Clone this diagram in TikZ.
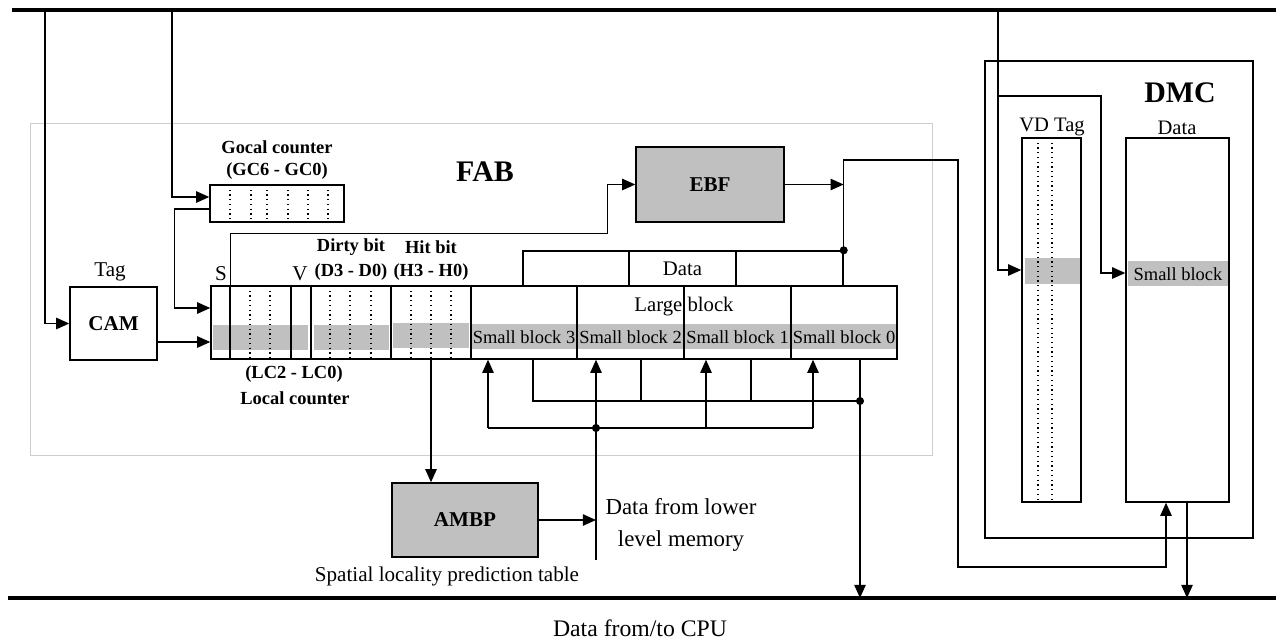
\documentclass[tikz,border=0pt]{standalone}
\usepackage{fontspec}
\setmainfont{Liberation Serif}
\usepackage{tikz}
\usetikzlibrary{calc, positioning, arrows.meta, fit}
\definecolor{cellgray}{RGB}{192, 192, 192}
\definecolor{framegray}{RGB}{205, 205, 205}

\begin{document}
\begin{tikzpicture}[x=0.02cm, y=-0.02cm, line width=0.8pt,
    >={Triangle[length=7.5pt, width=6.5pt]},
    fld/.style={draw, inner sep=0pt},
    gbox/.style={draw, fill=cellgray, inner sep=0pt},
    bigb/.style={font=\fontsize{12}{14}\selectfont\bfseries},
    hd/.style={font=\fontsize{10.5}{12}\selectfont\bfseries},
    txt/.style={font=\fontsize{12}{14}\selectfont},
    sbtxt/.style={font=\fontsize{10.5}{12}\selectfont, inner sep=0pt},
    dots/.style={dotted, line width=0.7pt}]
  \useasboundingbox (0,0) rectangle (1280,640);

  % Buses to and from the CPU
  \coordinate (topL) at (12,10);
  \coordinate (topR) at (1276,10);
  \coordinate (botL) at (8,598);
  \coordinate (botR) at (1276,598);
  \draw[line width=2.2pt] (topL) -- (topR);
  \draw[line width=2.2pt] (botL) -- (botR);
  \node[font=\fontsize{13.5}{15}\selectfont] (cpu) at (640,628) {Data from/to CPU};

  % FAB and DMC frames
  \node[fit={(30,123) (932,455)}, inner sep=0pt, draw=framegray, line width=0.5pt] (fabbox) {};
  \node[font=\fontsize{17}{19}\selectfont\bfseries] (fab) at (485,172) {FAB};
  \node[fit={(985,61) (1253,538)}, inner sep=0pt, draw, line width=0.7pt] (dmcbox) {};
  \node[font=\fontsize{17}{19}\selectfont\bfseries] (dmc) at (1180,93) {DMC};

  % Gray strips behind the selected row
  \fill[cellgray] (213,325) rectangle (308,350);
  \fill[cellgray] (314,325) rectangle (389,350);
  \fill[cellgray] (393,323) rectangle (469,348);
  \fill[cellgray] (471,324) rectangle (897,349);
  \fill[cellgray] (1025,258) rectangle (1080,284);
  \fill[cellgray] (1128,261) rectangle (1228,286);

  % FAB row fields
  \foreach \n/\l/\r in {s/211/230, lc/230/291, v/291/311, dty/311/391, hit/391/471,
                        sbc/471/577, sbb/577/684, sba/684/791, sbz/791/897}
    \node[fld, fit={(\l,286) (\r,359)}] (\n) {};
  \foreach \x in {250,270,330,350,371,411,431,451}
    \draw[dots] (\x,286) -- (\x,359);
  \foreach \n/\k in {sbc/3, sbb/2, sba/1, sbz/0}
    \node[sbtxt] at ([yshift=-0.29cm]\n.center) {Small block \k};
  \node[font=\fontsize{11.8}{13}\selectfont] (large) at (684,307) {Large block};

  % Data cells above the row
  \foreach \n/\l/\r in {dha/523/629, dhb/629/736, dhc/736/843}
    \node[fld, fit={(\l,251) (\r,286)}] (\n) {};
  \node[font=\fontsize{11.8}{13}\selectfont] at (dhb.center) {Data};

  % Field labels
  \node[txt] (slbl) at (221,274) {S};
  \node[txt] (vlbl) at (300,274) {V};
  \node[hd] (dlbl) at (351,272) {(D3 - D0)};
  \node[hd] (hlbl) at (431,272) {(H3 - H0)};
  \node[hd] at (351,247) {Dirty bit};
  \node[hd] at (431,247) {Hit bit};
  \node[hd] (lclbl) at (294,374) {(LC2 - LC0)};
  \node[hd] at (295,398) {Local counter};

  % Gocal counter
  \node[fld, fit={(210,185) (344,222)}] (gc) {};
  \foreach \x in {230,251,267,288,308,328}
    \draw[dots] (\x,185) -- (\x,222);
  \node[hd] at (277,147) {Gocal counter};
  \node[hd] at (277,171) {(GC6 - GC0)};

  % CAM, EBF and AMBP
  \node[fld, fit={(70,287) (157,360)}] (cam) {};
  \node[bigb] at (cam.center) {CAM};
  \node[txt] at (110,272) {Tag};
  \node[gbox, fit={(636,147) (784,222)}] (ebf) {};
  \node[bigb] at (ebf.center) {EBF};
  \node[gbox, fit={(392,483) (538,557)}] (ambp) {};
  \node[bigb] at (ambp.center) {AMBP};
  \node[txt] at (447,576) {Spatial locality prediction table};
  \node[font=\fontsize{13}{18}\selectfont, align=center] (lower) at (681,525) {Data from lower\\level memory};

  % DMC tag and data arrays
  \node[fld, fit={(1022,138) (1081,502)}] (vdt) {};
  \foreach \x in {1038,1052}
    \draw[dots] (\x,138) -- (\x,502);
  \node[font=\fontsize{11.7}{13}\selectfont] at (1052,127) {VD Tag};
  \node[fld, fit={(1126,138) (1229,502)}] (dmd) {};
  \node[sbtxt] at (1178,274) {Small block};
  \node[font=\fontsize{11.7}{13}\selectfont] at (1177,128) {Data};

  % Connectors on the left
  \coordinate (tapA) at (45,10);
  \coordinate (tapB) at (172,10);
  \draw[->] (tapA) |- (cam.west);
  \draw[->] (cam.east |- 0,342) -- (s.west |- 0,342);
  \draw[->] (tapB) |- (gc.west |- 0,197);
  \draw[->] (gc.west |- 0,209) -- ++(-35,0) |- (s.west |- 0,308);
  \draw[->] (s.north east) -- ++(0,-52) -| ([xshift=-0.56cm]ebf.west) -- (ebf.west);
  \draw[->] (ebf.east) -- (ebf.east -| dhc.east);

  % EBF output down to the DMC data array
  \coordinate (rA) at (958,160);
  \coordinate (rB) at (958,567);
  \coordinate (rC) at (1166,567);
  \draw[->] (dhc.south east) |- (rA) -- (rB) -- (rC) -- (rC |- dmd.south);
  \fill (dhc.north east) circle (2.3pt);

  % Row to CPU bus
  \coordinate (jB) at (860,401);
  \draw[->] (sbz.south -| jB) -- (jB) -- (jB |- botL);
  \draw (jB) -- (533,401) -- (sbc.south -| 533,0);
  \foreach \x in {641,751}
    \draw (\x,401) -- (sbb.south -| \x,0);
  \fill (jB) circle (2.3pt);

  % Lower level memory into the small blocks
  \coordinate (jA) at (596,428);
  \draw (488,428) -- (813,428);
  \foreach \x in {488,596,706,813}
    \draw[->] (\x,428) -- (sbc.south -| \x,0);
  \draw (jA) -- (596,560);
  \fill (jA) circle (2.3pt);

  % AMBP
  \draw[->] (hit.south) -- (hit.south |- ambp.north);
  \draw[->] (ambp.east) -- (ambp.east -| jA);

  % Connectors into the DMC
  \coordinate (tapC) at (998,10);
  \coordinate (tapD) at (998,96);
  \draw[->] (tapC) |- (vdt.west |- 0,270);
  \draw[->] (tapD) -| (1101,273) -- (dmd.west |- 0,273);
  \draw[->] (dmd.south -| 1187,0) -- (botL -| 1187,0);
\end{tikzpicture}
\end{document}
